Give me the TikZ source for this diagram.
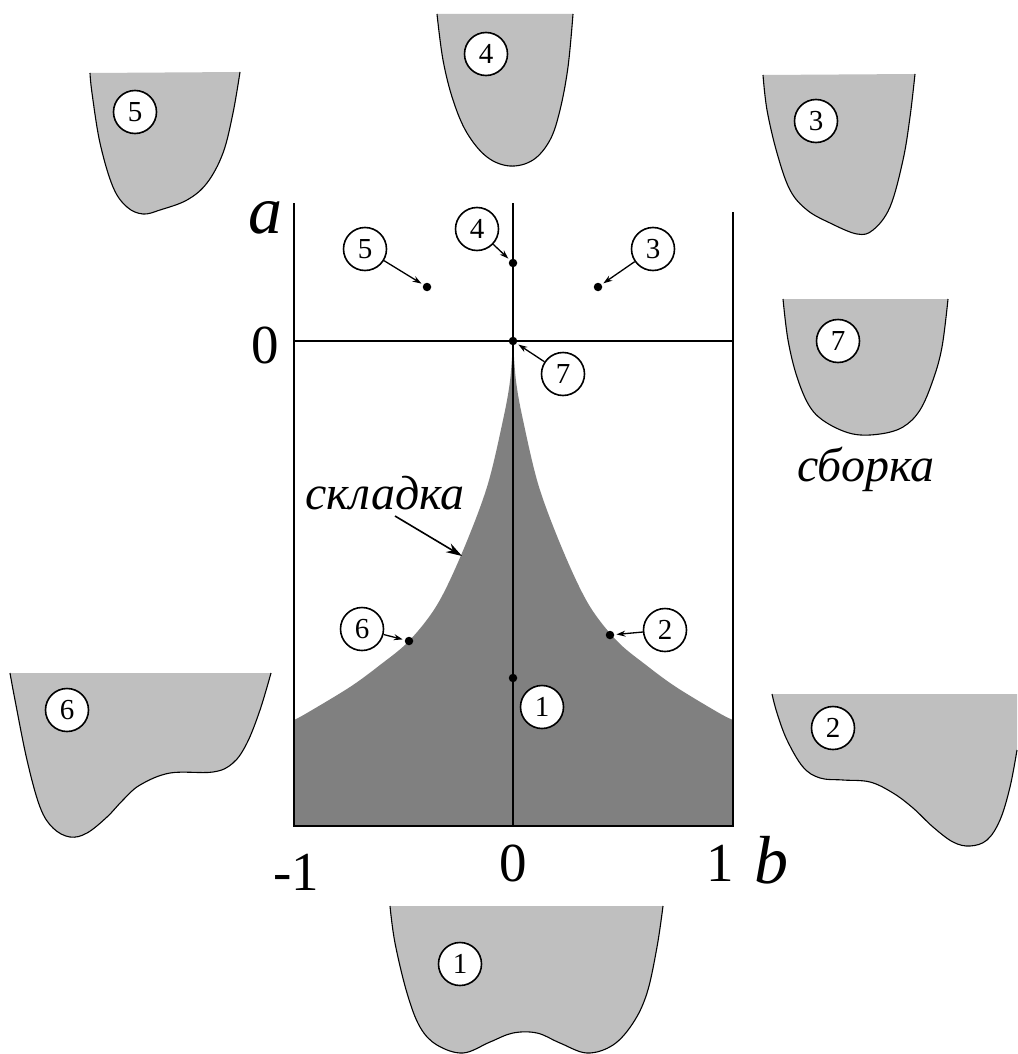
\documentclass[tikz,border=0pt]{standalone}
\usepackage{fontspec}
\setmainfont{Liberation Serif}
\usetikzlibrary{arrows.meta}
\newcommand\grshape[1]{%
  \fill[lightg] plot[smooth,tension=0.6] coordinates {#1} -- cycle;
  \draw[curvline] plot[smooth,tension=0.6] coordinates {#1};}
\begin{document}
\begin{tikzpicture}[x=1pt,y=-1pt,
  lightg/.style={fill=black!25},
  darkg/.style={fill=black!50},
  curvline/.style={line width=1.1pt,black},
  axisline/.style={line width=1.3pt,black},
  lab/.style={circle,draw,line width=1.6pt,fill=white,minimum size=43pt,inner sep=0pt,font=\fontsize{29}{29}\selectfont},
  dot/.style={circle,fill=black,minimum size=8.5pt,inner sep=0pt},
  ptr/.style={line width=1.3pt,-{Stealth[length=9pt,width=6pt]},shorten >=2pt},
  bigtxt/.style={font=\fontsize{55}{55}\selectfont,inner sep=0pt,anchor=base},
  vartxt/.style={font=\fontsize{68}{68}\selectfont\itshape,inner sep=0pt,anchor=base},
  wordtxt/.style={font=\fontsize{48}{48}\selectfont\itshape,inner sep=0pt,anchor=base}]
\useasboundingbox (0,0) rectangle (1017,1054);
\fill[white] (0,0) rectangle (1017,1054);

% dark cusp region
\fill[darkg] (294,826) -- (294,720)
  -- plot[smooth,tension=0.55] coordinates {(294,720) (307,713) (350,687) (380,665) (409,641) (437,605) (462,553) (487,487) (503,420) (510,381) (513,341)}
  -- plot[smooth,tension=0.55] coordinates {(513,341) (516,381) (523,420) (539,487) (564,553) (589,605) (617,641) (646,665) (676,687) (719,713) (733,720)}
  -- (733,826) -- cycle;

% frame and axes
\draw[axisline] (294,203) -- (294,826) -- (733,826) -- (733,212);
\draw[axisline] (294,341) -- (733,341);
\draw[axisline] (513,203) -- (513,826);

% axis labels
\node[vartxt] (avar) at (265,233) {a};
\node[bigtxt] (azero) at (265,363) {0};
\node[bigtxt] (bm1) at (296,890) {-1};
\node[bigtxt] (bzero) at (513,881) {0};
\node[bigtxt] (bone) at (720,881) {1};
\node[vartxt] (bvar) at (771,883) {b};

% points
\node[dot] (d1) at (513,678) {};
\node[dot] (d2) at (610,635) {};
\node[dot] (d3) at (598,287) {};
\node[dot] (d4) at (513,263) {};
\node[dot] (d5) at (427,287) {};
\node[dot] (d6) at (409,641) {};
\node[dot] (d7) at (513,341) {};

% labels in plot
\node[lab] (l1) at (542,707) {1};
\node[lab] (l2) at (665,630) {2};
\node[lab] (l3) at (653,249) {3};
\node[lab] (l4) at (477,229) {4};
\node[lab] (l5) at (365,249) {5};
\node[lab] (l6) at (362,629) {6};
\node[lab] (l7) at (563,374) {7};

\draw[ptr] (l2) -- (d2);
\draw[ptr] (l3) -- (d3);
\draw[ptr] (l4) -- (d4);
\draw[ptr] (l5) -- (d5);
\draw[ptr] (l6) -- (d6);
\draw[ptr] (l7) -- (d7);

% fold label
\node[wordtxt] (fold) at (385,509) {складка};
\coordinate (foldpt) at (462,556);
\draw[line width=1.6pt,-{Stealth[length=16pt,width=10pt]}] (395,516) -- (foldpt);

% small graphs
\grshape{(437,14) (443,60) (453,100) (467,133) (487,157) (510,166) (533,160) (550,140) (560,110) (568,67) (573,14)}
\node[lab] (s4) at (486,54) {4};

\grshape{(90,73) (92,93) (100,143) (113,187) (127,207) (143,214) (160,210) (187,200) (207,183) (223,153) (233,113) (240,72)}
\node[lab] (s5) at (135,112) {5};

\grshape{(763,75) (767,110) (777,153) (790,190) (807,210) (830,223) (857,234) (873,230) (890,207) (903,160) (910,117) (915,74)}
\node[lab] (s3) at (816,121) {3};

\grshape{(783,299) (788,340) (797,377) (810,407) (827,423) (853,434) (880,434) (903,427) (920,410) (933,380) (942,347) (948,299)}
\node[lab] (s7) at (838,341) {7};
\node[wordtxt] (cusp) at (866,481) {сборка};

\grshape{(10,673) (15,700) (27,760) (40,807) (53,828) (70,837) (87,833) (107,817) (123,800) (140,785) (170,773) (213,772) (233,763) (247,743) (260,710) (271,673)}
\node[lab] (s6) at (67,710) {6};

\fill[lightg] plot[smooth,tension=0.6] coordinates {(772,694) (777,713) (787,740) (803,767) (820,778) (843,780) (870,782) (893,793) (913,808) (933,827) (953,842) (970,846) (987,840) (1000,820) (1010,787) (1017,750)} -- (1017,694) -- cycle;
\draw[curvline] plot[smooth,tension=0.6] coordinates {(772,694) (777,713) (787,740) (803,767) (820,778) (843,780) (870,782) (893,793) (913,808) (933,827) (953,842) (970,846) (987,840) (1000,820) (1010,787) (1017,750)};
\node[lab] (s2) at (833,728) {2};

\grshape{(390,906) (395,943) (407,993) (420,1027) (437,1045) (463,1053) (490,1042) (513,1033) (537,1033) (560,1043) (587,1053) (613,1045) (633,1023) (647,993) (657,947) (663,906)}
\node[lab] (s1) at (460,964) {1};
\end{tikzpicture}
\end{document}
